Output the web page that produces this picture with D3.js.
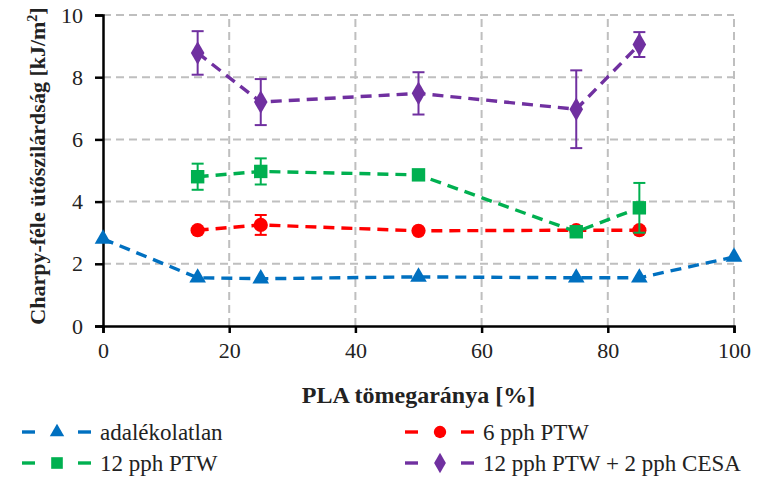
<!DOCTYPE html>
<html>
<head>
<meta charset="utf-8">
<script src="https://cdn.jsdelivr.net/npm/d3@7"></script>
<style>
body { margin: 0; background: #fff; }
text { font-family: "Liberation Serif", serif; }
</style>
</head>
<body>
<div id="chart"></div>
<script>
var width = 779;
var height = 478;
var margin = { left: 103, right: 45, top: 15, bottom: 152 };

// PLA mass fraction [%]
var xBlend = [0, 15, 25, 50, 75, 85, 100];
var xFilled = [15, 25, 50, 75, 85];

var seriesNames = ["adalékolatlan", "6 pph PTW", "12 pph PTW", "12 pph PTW + 2 pph CESA"];
var neatVals = [2.8, 1.55, 1.52, 1.58, 1.55, 1.55, 2.22];
var ptw6Vals = [3.08, 3.25, 3.06, 3.08, 3.08];
var ptw6Err = [0.05, 0.32, 0.05, 0.05, 0.05];
var ptw12Vals = [4.8, 4.97, 4.86, 3.03, 3.8];
var ptw12Err = [0.42, 0.42, 0.05, 0.12, 0.8];
var cesaVals = [8.78, 7.2, 7.48, 6.97, 9.05];
var cesaErr = [0.7, 0.74, 0.68, 1.25, 0.4];

var xTicks = [0, 20, 40, 60, 80, 100];
var yTicks = [0, 2, 4, 6, 8, 10];

var colors = ["#0070c0", "#ff0000", "#00b050", "#7030a0"];
var shapes = [d3.symbolTriangle, d3.symbolCircle, d3.symbolSquare, d3.symbolDiamond];
var sizes = [120, 160, 180, 160];

var svg = d3.select("#chart").append("svg")
    .attr("width", width)
    .attr("height", height);

var x = d3.scaleLinear().domain([0, 100]).range([margin.left, width - margin.right]);
var y = d3.scaleLinear().domain([0, 10]).range([height - margin.bottom, margin.top]);

// grid
svg.append("g").selectAll("line.h")
    .data(yTicks.slice(1))
    .enter().append("line")
    .attr("x1", x(0)).attr("x2", x(100))
    .attr("y1", function (d) { return y(d); })
    .attr("y2", function (d) { return y(d); })
    .attr("stroke", "#bfbfbf").attr("stroke-width", 2)
    .attr("stroke-dasharray", "8,5");
svg.append("g").selectAll("line.v")
    .data(xTicks.slice(1))
    .enter().append("line")
    .attr("y1", y(0)).attr("y2", y(10))
    .attr("x1", function (d) { return x(d); })
    .attr("x2", function (d) { return x(d); })
    .attr("stroke", "#bfbfbf").attr("stroke-width", 2)
    .attr("stroke-dasharray", "8,5");

// axes
var xAxis = svg.append("g")
    .attr("transform", "translate(0," + y(0) + ")")
    .call(d3.axisBottom(x).tickValues(xTicks).tickSize(7).tickPadding(9));
var yAxis = svg.append("g")
    .attr("transform", "translate(" + x(0) + ",0)")
    .call(d3.axisLeft(y).tickValues(yTicks).tickSize(8).tickPadding(12));
[xAxis, yAxis].forEach(function (a) {
    a.attr("font-family", null);
    a.select(".domain").attr("stroke", "#000").attr("stroke-width", 2.5);
    a.selectAll(".tick line").attr("stroke", "#000").attr("stroke-width", 2.5);
    a.selectAll(".tick text").attr("fill", "#222")
        .style("font-size", "22px")
        .style("font-family", "'Liberation Serif', serif");
});

svg.append("text")
    .attr("x", (x(0) + x(100)) / 2)
    .attr("y", 403)
    .attr("text-anchor", "middle")
    .attr("font-size", 24).attr("font-weight", "bold").attr("fill", "#222")
    .text("PLA tömegaránya [%]");

svg.append("text")
    .attr("transform", "translate(45,166) rotate(-90)")
    .attr("text-anchor", "middle")
    .attr("font-size", 22).attr("font-weight", "bold").attr("fill", "#222")
    .html("Charpy-féle ütőszilárdság [kJ/m<tspan dy='-8' font-size='14'>2</tspan><tspan dy='8'>]</tspan>");

var series = [
    { xs: xBlend, vals: neatVals, err: null },
    { xs: xFilled, vals: ptw6Vals, err: ptw6Err },
    { xs: xFilled, vals: ptw12Vals, err: ptw12Err },
    { xs: xFilled, vals: cesaVals, err: cesaErr }
];

var line = d3.line()
    .x(function (d) { return x(d[0]); })
    .y(function (d) { return y(d[1]); });

series.forEach(function (s, k) {
    var pts = s.xs.map(function (v, i) { return [v, s.vals[i], s.err ? s.err[i] : 0]; });
    var g = svg.append("g");
    g.append("path")
        .attr("d", line(pts))
        .attr("fill", "none")
        .attr("stroke", colors[k])
        .attr("stroke-width", 3.4)
        .attr("stroke-dasharray", "11,7");
    if (s.err) {
        var eb = g.selectAll("g.err").data(pts).enter().append("g")
            .attr("stroke", colors[k]).attr("stroke-width", 2);
        eb.append("line")
            .attr("x1", function (d) { return x(d[0]); })
            .attr("x2", function (d) { return x(d[0]); })
            .attr("y1", function (d) { return y(d[1] - d[2]); })
            .attr("y2", function (d) { return y(d[1] + d[2]); });
        [-1, 1].forEach(function (sg) {
            eb.append("line")
                .attr("x1", function (d) { return x(d[0]) - 6; })
                .attr("x2", function (d) { return x(d[0]) + 6; })
                .attr("y1", function (d) { return y(d[1] + sg * d[2]); })
                .attr("y2", function (d) { return y(d[1] + sg * d[2]); });
        });
    }
    g.selectAll("path.mk").data(pts).enter().append("path")
        .attr("class", "mk")
        .attr("transform", function (d) { return "translate(" + x(d[0]) + "," + y(d[1]) + ")"; })
        .attr("d", d3.symbol().type(shapes[k]).size(sizes[k]))
        .attr("fill", colors[k]);
});

// legend
var legendPos = [[22, 432], [405, 432], [22, 463], [405, 463]];
seriesNames.forEach(function (name, k) {
    var lg = svg.append("g").attr("transform", "translate(" + legendPos[k][0] + "," + legendPos[k][1] + ")");
    lg.append("line").attr("x1", 0).attr("x2", 13).attr("y1", 0).attr("y2", 0)
        .attr("stroke", colors[k]).attr("stroke-width", 3.4);
    lg.append("line").attr("x1", 56).attr("x2", 69).attr("y1", 0).attr("y2", 0)
        .attr("stroke", colors[k]).attr("stroke-width", 3.4);
    lg.append("path")
        .attr("transform", "translate(35,0)")
        .attr("d", d3.symbol().type(shapes[k]).size(sizes[k] * 0.75))
        .attr("fill", colors[k]);
    lg.append("text")
        .attr("x", 78).attr("y", 8)
        .attr("font-size", 23).attr("fill", "#222")
        .text(name);
});
</script>
</body>
</html>
